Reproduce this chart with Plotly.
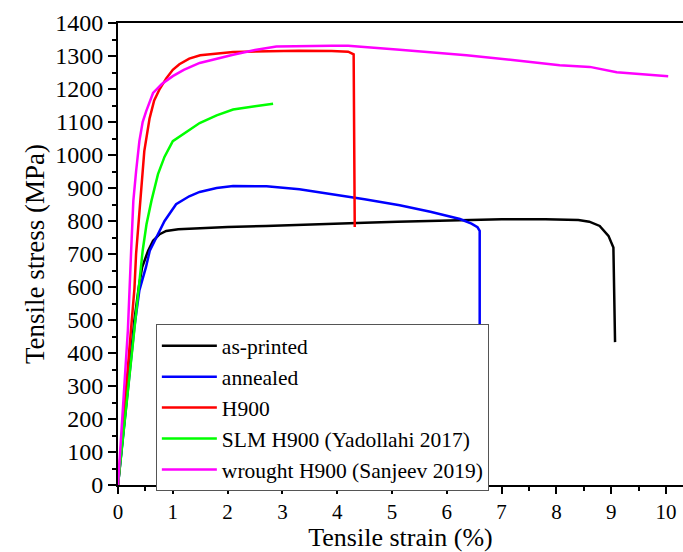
import plotly.graph_objects as go

# ---- data (strain %, stress MPa) ----
black_x = [0, 0.15, 0.30, 0.38, 0.44, 0.55, 0.64, 0.76, 0.88, 1.1, 1.49, 2.0, 2.7, 3.3, 3.9, 4.5, 5.1, 6.0, 7.0, 7.8, 8.4, 8.6, 8.79, 8.95, 9.04, 9.07]
black_y = [0, 250, 500, 600, 660, 710, 740, 760, 770, 775, 779, 782, 785, 789, 792, 795, 798, 802, 805, 805, 803, 798, 785, 755, 720, 433]

blue_x = [0, 0.15, 0.30, 0.39, 0.51, 0.58, 0.70, 0.85, 1.06, 1.3, 1.49, 1.8, 2.1, 2.71, 3.31, 3.92, 4.5, 5.14, 5.7, 6.24, 6.45, 6.56, 6.60, 6.60]
blue_y = [0, 240, 480, 590, 660, 710, 750, 800, 851, 875, 888, 900, 906, 905, 896, 881, 866, 848, 828, 806, 792, 781, 770, 450]

red_x = [0, 0.12, 0.24, 0.30, 0.33, 0.41, 0.48, 0.575, 0.66, 0.76, 0.88, 1.0, 1.12, 1.3, 1.5, 2.1, 2.7, 3.3, 3.9, 4.2, 4.3, 4.32]
red_y = [0, 240, 480, 595, 700, 861, 1012, 1110, 1165, 1200, 1232, 1258, 1275, 1292, 1302, 1312, 1315, 1316, 1315, 1313, 1305, 782]

green_x = [0, 0.15, 0.30, 0.39, 0.45, 0.52, 0.61, 0.73, 0.85, 1.0, 1.2, 1.49, 1.8, 2.1, 2.5, 2.83]
green_y = [0, 235, 470, 619, 710, 790, 861, 942, 995, 1042, 1065, 1097, 1120, 1138, 1148, 1155]

magenta_x = [0, 0.09, 0.18, 0.24, 0.28, 0.33, 0.39, 0.45, 0.515, 0.64, 0.8, 1.0, 1.2, 1.49, 2.1, 2.5, 2.89, 3.9, 4.2, 5.14, 6.36, 7.2, 8.06, 8.61, 9.1, 10.04]
magenta_y = [0, 235, 468, 710, 861, 950, 1042, 1100, 1133, 1188, 1215, 1239, 1258, 1279, 1304, 1318, 1329, 1331, 1331, 1319, 1302, 1288, 1272, 1267, 1251, 1239]

series = [
    ("as-printed", black_x, black_y, "#000000"),
    ("annealed", blue_x, blue_y, "#0000FF"),
    ("H900", red_x, red_y, "#FF0000"),
    ("SLM H900 (Yadollahi 2017)", green_x, green_y, "#00FF00"),
    ("wrought H900 (Sanjeev 2019)", magenta_x, magenta_y, "#FF00FF"),
]

x_ticks = list(range(0, 11))
y_ticks = list(range(0, 1401, 100))

FONT = "Liberation Serif, Times New Roman, serif"

fig = go.Figure()
for name, xs, ys, col in series:
    fig.add_trace(go.Scatter(x=xs, y=ys, mode="lines", name=name,
                             line=dict(color=col, width=2.5)))

axis_common = dict(
    showgrid=False, zeroline=False, showline=True, linecolor="black", linewidth=2,
    tickwidth=2, tickcolor="black", ticks="outside",
    mirror=True,
)

fig.update_xaxes(
    **axis_common, ticklen=7,
    range=[0, 10.31], tickvals=x_ticks, ticktext=[str(v) for v in x_ticks],
    tickfont=dict(family=FONT, size=21, color="black"),
    minor=dict(ticks="outside", ticklen=4, tickwidth=2, tickcolor="black", dtick=0.5),
    title=dict(text="Tensile strain (%)", font=dict(family=FONT, size=26, color="black"), standoff=6),
)
fig.update_yaxes(
    **axis_common, ticklen=8,
    range=[0, 1400], tickvals=y_ticks, ticktext=[str(v) for v in y_ticks],
    tickfont=dict(family=FONT, size=24, color="black"),
    minor=dict(ticks="outside", ticklen=4, tickwidth=2, tickcolor="black", dtick=50),
    title=dict(text="Tensile stress (MPa)", font=dict(family=FONT, size=27, color="black"), standoff=3),
)

fig.update_layout(
    width=683, height=552,
    margin=dict(l=118, r=0, t=23, b=67, autoexpand=False),
    paper_bgcolor="white", plot_bgcolor="white",
    showlegend=True,
    legend=dict(
        x=0.067, y=0.348, xanchor="left", yanchor="top",
        bgcolor="white", bordercolor="#555555", borderwidth=1,
        font=dict(family=FONT, size=21.5, color="black"),
        itemwidth=55, tracegroupgap=0,
    ),
)

html = fig.to_html(full_html=True, include_plotlyjs=True,
                   config={"displayModeBar": False})
html = html.replace("<head>", "<head><style>html,body{margin:0;padding:0;overflow:hidden;}</style>", 1)
with open("out.html", "w", encoding="utf-8") as f:
    f.write(html)
